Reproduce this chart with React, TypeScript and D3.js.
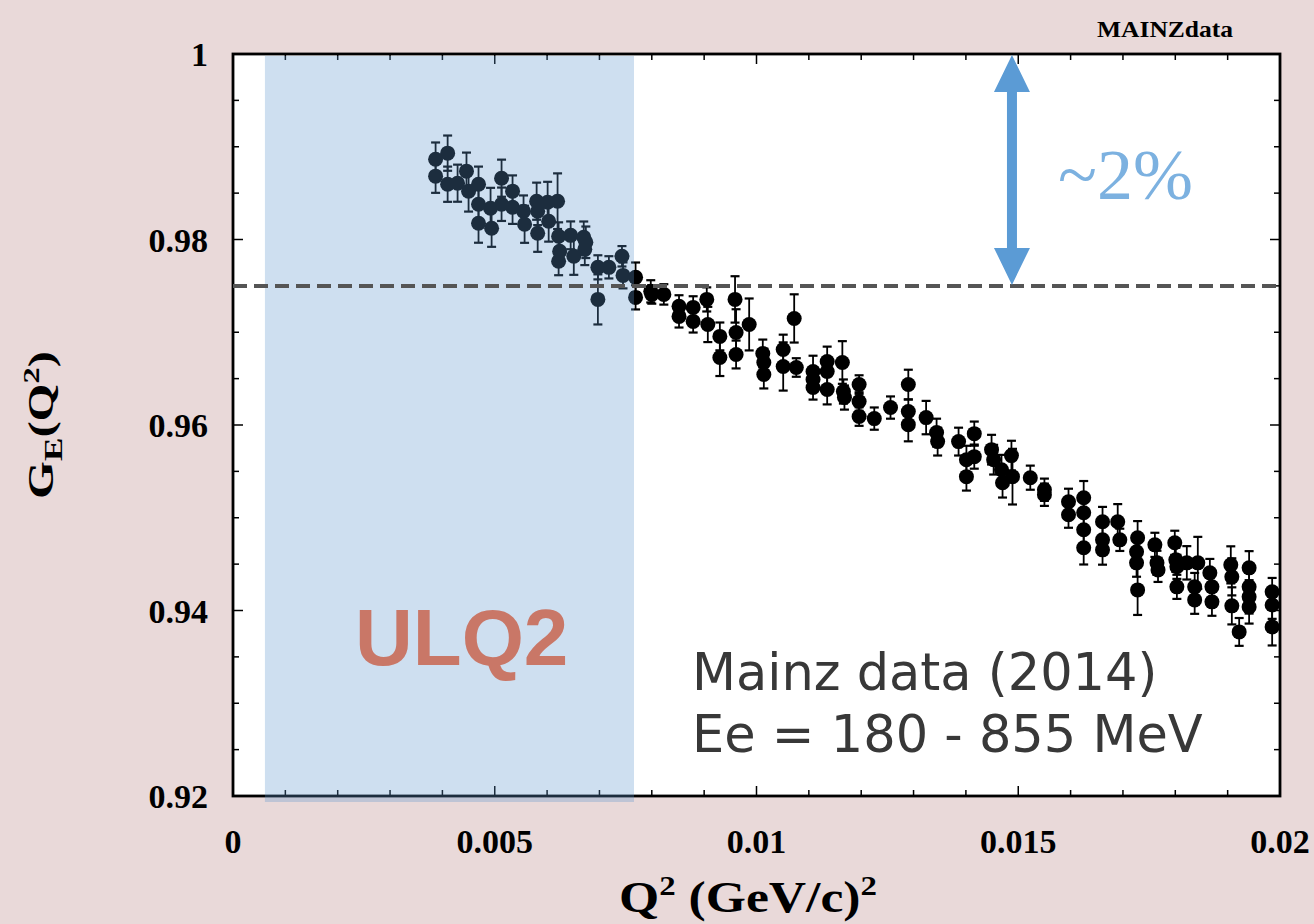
import React from "react";
import * as d3 from "d3";

// ---- data ----
const Q2 = [
  0.00387, 0.00410, 0.00387, 0.00410, 0.00429, 0.00446, 0.00450, 0.00469, 0.00469, 0.00469,
  0.00492, 0.00494, 0.00513, 0.00513, 0.00534, 0.00534, 0.00555, 0.00557, 0.00580, 0.00582,
  0.00582, 0.00601, 0.00603, 0.00620, 0.00622, 0.00622, 0.00624, 0.00645, 0.00651, 0.00670,
  0.00672, 0.00674, 0.00697, 0.00697, 0.00718, 0.00743, 0.00745, 0.00769, 0.00769, 0.00798,
  0.00823, 0.00800, 0.00852, 0.00852, 0.00879, 0.00879, 0.00905, 0.00907, 0.00930, 0.00930,
  0.00959, 0.00961, 0.00961, 0.00986, 0.01012, 0.01014, 0.01014, 0.01051, 0.01051, 0.01072,
  0.01076, 0.01108, 0.01108, 0.01108, 0.01135, 0.01135, 0.01135, 0.01164, 0.01166, 0.01168,
  0.01196, 0.01196, 0.01196, 0.01225, 0.01256, 0.01290, 0.01290, 0.01290, 0.01324, 0.01344,
  0.01346, 0.01386, 0.01416, 0.01416, 0.01401, 0.01401, 0.01449, 0.01453, 0.01468, 0.01470,
  0.01487, 0.01489, 0.01523, 0.01550, 0.01550, 0.01596, 0.01596, 0.01625, 0.01625, 0.01625,
  0.01625, 0.01661, 0.01661, 0.01661, 0.01690, 0.01694, 0.01728, 0.01726, 0.01726, 0.01728,
  0.01761, 0.01765, 0.01767, 0.01799, 0.01801, 0.01803, 0.01803, 0.01822, 0.01843, 0.01837,
  0.01837, 0.01866, 0.01870, 0.01870, 0.01906, 0.01908, 0.01908, 0.01922, 0.01941, 0.01941,
  0.01941, 0.01941, 0.01985, 0.01985, 0.01985,
];
const GE = [
  0.98866, 0.98931, 0.98683, 0.98596, 0.98607, 0.98737, 0.98521, 0.98596, 0.98380, 0.98175,
  0.98337, 0.98121, 0.98661, 0.98380, 0.98521, 0.98348, 0.98305, 0.98164, 0.98413, 0.98067,
  0.98305, 0.98402, 0.98197, 0.98413, 0.98035, 0.97765, 0.97873, 0.98045, 0.97819, 0.98024,
  0.97894, 0.97970, 0.97700, 0.97354, 0.97700, 0.97819, 0.97613, 0.97592, 0.97376, 0.97441,
  0.97408, 0.97408, 0.97279, 0.97171, 0.97268, 0.97117, 0.97354, 0.97084, 0.96955, 0.96728,
  0.97354, 0.96998, 0.96760, 0.97084, 0.96771, 0.96674, 0.96544, 0.96814, 0.96631, 0.97149,
  0.96620, 0.96577, 0.96404, 0.96490, 0.96685, 0.96577, 0.96382, 0.96674, 0.96361, 0.96296,
  0.96436, 0.96253, 0.96091, 0.96069, 0.96188, 0.96436, 0.96145, 0.96004, 0.96080, 0.95918,
  0.95821, 0.95821, 0.95907, 0.95659, 0.95626, 0.95443, 0.95734, 0.95626, 0.95518, 0.95378,
  0.95670, 0.95443, 0.95432, 0.95302, 0.95248, 0.95173, 0.95032, 0.95216, 0.95054, 0.94870,
  0.94676, 0.94957, 0.94762, 0.94654, 0.94957, 0.94762, 0.94784, 0.94633, 0.94514, 0.94222,
  0.94708, 0.94514, 0.94438, 0.94730, 0.94546, 0.94471, 0.94255, 0.94514, 0.94514, 0.94255,
  0.94114, 0.94406, 0.94255, 0.94093, 0.94492, 0.94363, 0.94050, 0.93769, 0.94460, 0.94255,
  0.94147, 0.94039, 0.94201, 0.94060, 0.93823,
];
const dGE = [
  0.0018, 0.0019, 0.0018, 0.0019, 0.0020, 0.0020, 0.0022, 0.0019, 0.0020, 0.0021,
  0.0022, 0.0020, 0.0020, 0.0018, 0.0017, 0.0018, 0.0017, 0.0020, 0.0020, 0.0020,
  0.0015, 0.0022, 0.0022, 0.0030, 0.0015, 0.0015, 0.0015, 0.0015, 0.0020, 0.0017,
  0.0017, 0.0017, 0.0013, 0.0027, 0.0012, 0.0011, 0.0014, 0.0016, 0.0013, 0.0012,
  0.0011, 0.0010, 0.0012, 0.0012, 0.0012, 0.0012, 0.0013, 0.0019, 0.0015, 0.0020,
  0.0025, 0.0025, 0.0015, 0.0028, 0.0015, 0.0015, 0.0015, 0.0016, 0.0026, 0.0026,
  0.0010, 0.0017, 0.0013, 0.0013, 0.0016, 0.0015, 0.0016, 0.0023, 0.0013, 0.0013,
  0.0010, 0.0010, 0.0010, 0.0012, 0.0012, 0.0016, 0.0013, 0.0018, 0.0018, 0.0015,
  0.0015, 0.0015, 0.0013, 0.0013, 0.0015, 0.0015, 0.0016, 0.0016, 0.0016, 0.0016,
  0.0016, 0.0030, 0.0013, 0.0012, 0.0012, 0.0014, 0.0014, 0.0018, 0.0015, 0.0015,
  0.0018, 0.0016, 0.0016, 0.0016, 0.0019, 0.0012, 0.0018, 0.0015, 0.0015, 0.0027,
  0.0013, 0.0013, 0.0013, 0.0013, 0.0013, 0.0013, 0.0013, 0.0018, 0.0028, 0.0015,
  0.0015, 0.0015, 0.0015, 0.0015, 0.0020, 0.0020, 0.0020, 0.0015, 0.0018, 0.0018,
  0.0018, 0.0018, 0.0015, 0.0015, 0.0020,
];

const yTicks = [0.92, 0.94, 0.96, 0.98, 1];
const yTickLabels = ["0.92", "0.94", "0.96", "0.98", "1"];
const xTicks = [0, 0.005, 0.01, 0.015, 0.02];
const xTickLabels = ["0", "0.005", "0.01", "0.015", "0.02"];
const ulq2Range = [0.00061, 0.00766];
const referenceLevel = 0.975;
const arrowQ2 = 0.01488;
const textLines = ["Mainz data (2014)", "Ee = 180 - 855 MeV"];

const W = 1314;
const H = 924;
const L = 233, R = 1280, T = 54, B = 796;

export default function App() {
  const x = d3.scaleLinear().domain([0, 0.02]).range([L, R]);
  const y = d3.scaleLinear().domain([0.92, 1]).range([B, T]);

  const yMinor = d3.range(0.92, 1.0001, 0.005);
  const xMinor = d3.range(0, 0.02001, 0.001);
  const serif = "'Liberation Serif', 'Times New Roman', serif";

  const points = Q2.map((q, i) => ({ q, g: GE[i], e: dGE[i] }));

  const ax = x(arrowQ2);
  const yTop = y(1) + 1;
  const yBot = y(referenceLevel) - 1;
  const headL = 37, headW = 18, shaftW = 5;
  const arrowPath = [
    `M${ax},${yTop}`,
    `L${ax + headW},${yTop + headL}`,
    `L${ax + shaftW},${yTop + headL}`,
    `L${ax + shaftW},${yBot - headL}`,
    `L${ax + headW},${yBot - headL}`,
    `L${ax},${yBot}`,
    `L${ax - headW},${yBot - headL}`,
    `L${ax - shaftW},${yBot - headL}`,
    `L${ax - shaftW},${yTop + headL}`,
    `L${ax - headW},${yTop + headL}`,
    "Z",
  ].join("");

  return (
    <svg
      width={W}
      height={H}
      style={{ position: "absolute", left: 0, top: 0, display: "block" }}
    >
      <rect x={0} y={0} width={W} height={H} fill="#e9d9d9" />
      <rect x={L} y={T} width={R - L} height={B - T} fill="#ffffff" />

      {/* error bars and points */}
      <g>
        {points.map((p, i) => (
          <g key={i} stroke="#000">
            <line x1={x(p.q)} x2={x(p.q)} y1={y(p.g + p.e)} y2={y(p.g - p.e)} strokeWidth={1.8} />
            <line x1={x(p.q) - 4.5} x2={x(p.q) + 4.5} y1={y(p.g + p.e)} y2={y(p.g + p.e)} strokeWidth={2.2} />
            <line x1={x(p.q) - 4.5} x2={x(p.q) + 4.5} y1={y(p.g - p.e)} y2={y(p.g - p.e)} strokeWidth={2.2} />
          </g>
        ))}
        {points.map((p, i) => (
          <circle key={"c" + i} cx={x(p.q)} cy={y(p.g)} r={7.5} fill="#000" />
        ))}
      </g>

      {/* ticks */}
      <g stroke="#000" strokeWidth={1.5}>
        {yMinor.map((v, i) => {
          const major = yTicks.some((t) => Math.abs(t - v) < 1e-6);
          const len = major ? 10 : 6;
          return (
            <g key={"y" + i}>
              <line x1={L} x2={L + len} y1={y(v)} y2={y(v)} />
              <line x1={R} x2={R - len} y1={y(v)} y2={y(v)} />
            </g>
          );
        })}
        {xMinor.map((v, i) => {
          const major = xTicks.some((t) => Math.abs(t - v) < 1e-7);
          const len = major ? 10 : 6;
          return (
            <g key={"x" + i}>
              <line x1={x(v)} x2={x(v)} y1={B} y2={B - len} />
              <line x1={x(v)} x2={x(v)} y1={T} y2={T + len} />
            </g>
          );
        })}
      </g>
      <rect x={L} y={T} width={R - L} height={B - T} fill="none" stroke="#000" strokeWidth={2.8} />

      {/* ULQ2 region */}
      <rect
        x={x(ulq2Range[0])}
        y={T + 2}
        width={x(ulq2Range[1]) - x(ulq2Range[0])}
        height={B - T + 4}
        fill="rgb(93,148,204)"
        fillOpacity={0.3}
      />

      {/* dashed reference */}
      <line
        x1={L}
        x2={R}
        y1={y(referenceLevel)}
        y2={y(referenceLevel)}
        stroke="#555"
        strokeWidth={4}
        strokeDasharray="14 7"
      />

      {/* arrow */}
      <path d={arrowPath} fill="#5b9bd5" />
      <text x={1058} y={199} fontFamily={serif} fontSize={72} fill="#7cb1e0">~2%</text>

      {/* tick labels */}
      <g fontFamily={serif} fontWeight="bold" fontSize={34} fill="#000">
        {yTicks.map((v, i) => (
          <text key={"yl" + i} x={208} y={y(v) + 12} textAnchor="end">{yTickLabels[i]}</text>
        ))}
        {xTicks.map((v, i) => (
          <text key={"xl" + i} x={x(v)} y={853} textAnchor="middle">{xTickLabels[i]}</text>
        ))}
      </g>

      <text x={1165} y={37} fontFamily={serif} fontWeight="bold" fontSize={24} textAnchor="middle" textLength={136} lengthAdjust="spacingAndGlyphs">MAINZdata</text>

      {/* axis titles */}
      <text x={748} y={912} fontFamily={serif} fontWeight="bold" fontSize={44} textAnchor="middle" textLength={258} lengthAdjust="spacingAndGlyphs">
        Q<tspan dy={-17} fontSize={28}>2</tspan><tspan dy={17}> (GeV/c)</tspan><tspan dy={-17} fontSize={28}>2</tspan>
      </text>
      <text
        transform={`translate(53,${(T + B) / 2}) rotate(-90)`}
        fontFamily={serif}
        fontWeight="bold"
        fontSize={36}
        textAnchor="middle"
        textLength={148}
        lengthAdjust="spacingAndGlyphs"
      >
        G<tspan dy={9} fontSize={26}>E</tspan><tspan dy={-9}>(Q</tspan><tspan dy={-14} fontSize={24}>2</tspan><tspan dy={14}>)</tspan>
      </text>

      {/* annotations */}
      <text x={355} y={665} fontFamily="'Liberation Sans', Arial, sans-serif" fontWeight="bold" fontSize={80} fill="#c97767">ULQ2</text>
      <text x={692} y={690} fontFamily="'DejaVu Sans', Verdana, sans-serif" fontSize={51} fill="#383838">{textLines[0]}</text>
      <text x={692} y={752} fontFamily="'DejaVu Sans', Verdana, sans-serif" fontSize={51} fill="#383838">{textLines[1]}</text>
    </svg>
  );
}
